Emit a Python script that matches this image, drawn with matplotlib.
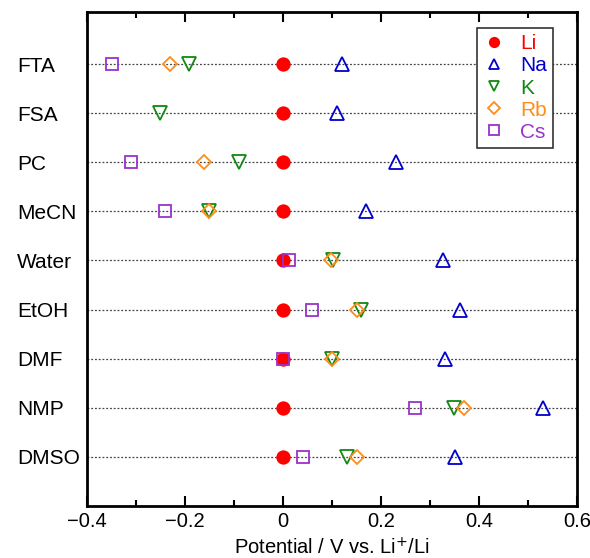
import matplotlib
matplotlib.use("Agg")
import matplotlib.pyplot as plt
from matplotlib.ticker import MultipleLocator

plt.rcParams['font.family'] = ['Liberation Sans', 'DejaVu Sans']

solvents = ["FTA", "FSA", "PC", "MeCN", "Water", "EtOH", "DMF", "NMP", "DMSO"]
Li = [0, 0, 0, 0, 0, 0, 0, 0, 0]
Na = [0.12, 0.11, 0.23, 0.17, 0.327, 0.361, 0.331, 0.531, 0.351]
K = [-0.192, -0.251, -0.09, -0.151, 0.102, 0.159, 0.10, 0.349, 0.131]
Rb = [-0.231, None, -0.161, -0.151, 0.098, 0.151, 0.10, 0.369, 0.151]
Cs = [-0.35, None, -0.311, -0.241, 0.012, 0.059, 0.0, 0.269, 0.041]

fig = plt.figure(figsize=(5.9, 5.58), dpi=100)
ax = fig.add_axes([87/590, 1-506/558, (577-87)/590, (506-12)/558])

ypos = list(range(1, len(solvents)+1))

for y in ypos:
    ax.axhline(y, color='#444444', lw=0.9, ls=(0, (1.5, 1.5)), zorder=1)

def pairs(vals):
    xs, ys = [], []
    for v, y in zip(vals, ypos):
        if v is not None:
            xs.append(v); ys.append(y)
    return xs, ys

series = [
    ("Li", Li, 'o', '#ff0000', True, 9),
    ("Na", Na, '^', '#0000cc', False, 10),
    ("K", K, 'v', '#118811', False, 10),
    ("Rb", Rb, 'D', '#ff8c1a', False, 7.5),
    ("Cs", Cs, 's', '#9933cc', False, 9),
]
for name, vals, m, c, filled, ms in series:
    xs, ys = pairs(vals)
    ax.plot(xs, ys, ls='none', marker=m, ms=ms, mec=c,
            mfc=c if filled else 'none', mew=1.3, label=name, zorder=3)

ax.set_xlim(-0.4, 0.6)
ax.set_ylim(10, -0.06)
ax.set_yticks(ypos)
ax.set_yticklabels(solvents, fontsize=15, ha='left')
ax.tick_params(axis='y', length=0, pad=50.4)
ax.xaxis.set_minor_locator(MultipleLocator(0.1))
ax.set_xticks([-0.4, -0.2, 0, 0.2, 0.4, 0.6])
ax.set_xticklabels(["\u22120.4", "\u22120.2", "0", "0.2", "0.4", "0.6"], fontsize=14.5)
ax.tick_params(axis='x', which='major', direction='in', length=7, width=1.5, top=True, pad=4)
ax.tick_params(axis='x', which='minor', direction='in', length=4, width=1.5, top=True)
for s in ax.spines.values():
    s.set_linewidth(2)

ax.set_xlabel("Potential / V vs. Li$^{+}$/Li", fontsize=14.5, labelpad=5)

leg = ax.legend(loc='upper right', bbox_to_anchor=(553/590, 1-28/558), bbox_transform=fig.transFigure,
                fontsize=15, markerscale=0.75, labelcolor='markeredgecolor', fancybox=False,
                framealpha=1, edgecolor='#333333', handlelength=1.0, handletextpad=0.75,
                labelspacing=0.15, borderpad=0.3, borderaxespad=0)
leg.get_frame().set_linewidth(1.2)

fig.savefig("out.png", dpi=100)
